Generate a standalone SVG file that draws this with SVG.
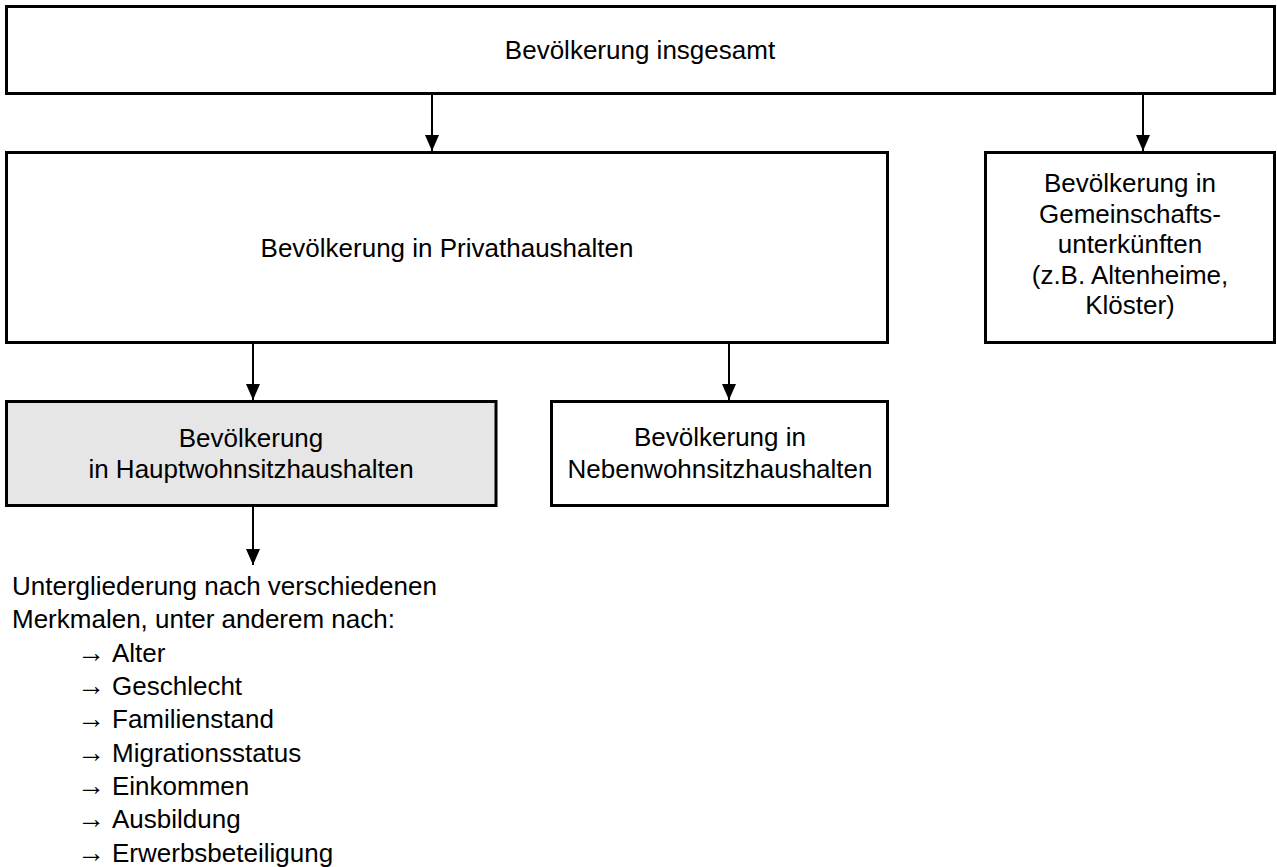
<svg xmlns="http://www.w3.org/2000/svg" width="1277" height="867" viewBox="0 0 1277 867">
<style>
.box{fill:#ffffff;stroke:#000000;stroke-width:3}
.gray{fill:#e6e6e6}
text{font-family:"Liberation Sans",Arial,sans-serif;font-size:26px;fill:#000000}
.c{text-anchor:middle}
.ar{font-size:28px}
.conn line{stroke:#000000;stroke-width:2}
</style>
<defs>
<marker id="ah" markerUnits="userSpaceOnUse" markerWidth="18" markerHeight="16" viewBox="0 0 16 16" refX="16" refY="8" orient="auto">
<path d="M0,1 L16,8 L0,15 Z" fill="#000000"/>
</marker>
</defs>
<rect width="1277" height="867" fill="#ffffff"/>
<g id="n1">
<rect class="box" x="6.5" y="6.5" width="1268" height="87"/>
<text class="c" x="640" y="59">Bevölkerung insgesamt</text>
</g>
<g id="n2">
<rect class="box" x="6.5" y="152.5" width="881" height="190"/>
<text class="c" x="447" y="256.5">Bevölkerung in Privathaushalten</text>
</g>
<g id="n3">
<rect class="box" x="985.5" y="152.5" width="289" height="190"/>
<text class="c" x="1130" y="192">Bevölkerung in</text>
<text class="c" x="1130" y="222.5">Gemeinschafts-</text>
<text class="c" x="1130" y="253">unterkünften</text>
<text class="c" x="1130" y="283.5">(z.B. Altenheime,</text>
<text class="c" x="1130" y="314">Klöster)</text>
</g>
<g id="n4">
<rect class="box gray" x="6.5" y="401.5" width="489.5" height="104"/>
<text class="c" x="251" y="446.5">Bevölkerung</text>
<text class="c" x="251" y="477.5">in Hauptwohnsitzhaushalten</text>
</g>
<g id="n5">
<rect class="box" x="551.5" y="401.5" width="336" height="104"/>
<text class="c" x="720" y="446">Bevölkerung in</text>
<text class="c" x="720" y="477.5">Nebenwohnsitzhaushalten</text>
</g>
<g id="n6">
<text x="12" y="595">Untergliederung nach verschiedenen</text>
<text x="12" y="628">Merkmalen, unter anderem nach:</text>
<text y="662"><tspan class="ar" x="77">→</tspan><tspan x="112">Alter</tspan></text>
<text y="695"><tspan class="ar" x="77">→</tspan><tspan x="112">Geschlecht</tspan></text>
<text y="728"><tspan class="ar" x="77">→</tspan><tspan x="112">Familienstand</tspan></text>
<text y="762"><tspan class="ar" x="77">→</tspan><tspan x="112">Migrationsstatus</tspan></text>
<text y="795"><tspan class="ar" x="77">→</tspan><tspan x="112">Einkommen</tspan></text>
<text y="828"><tspan class="ar" x="77">→</tspan><tspan x="112">Ausbildung</tspan></text>
<text y="862"><tspan class="ar" x="77">→</tspan><tspan x="112">Erwerbsbeteiligung</tspan></text>
</g>
<g id="connectors" class="conn">
<line x1="432" y1="95" x2="432" y2="151" marker-end="url(#ah)"/>
<line x1="1143" y1="95" x2="1143" y2="151" marker-end="url(#ah)"/>
<line x1="253" y1="344" x2="253" y2="400" marker-end="url(#ah)"/>
<line x1="729" y1="344" x2="729" y2="400" marker-end="url(#ah)"/>
<line x1="253" y1="507" x2="253" y2="565" marker-end="url(#ah)"/>
</g>
</svg>
